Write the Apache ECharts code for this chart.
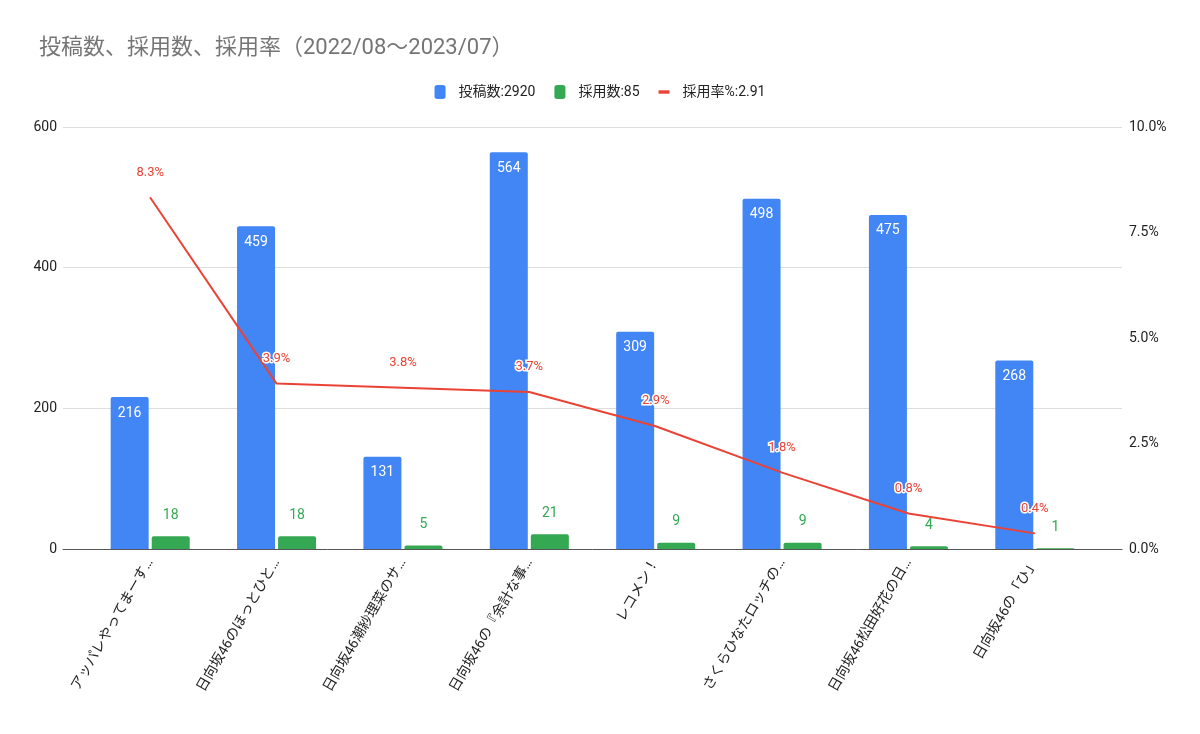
<!DOCTYPE html>
<html>
<head>
<meta charset="utf-8">
<script src="https://cdn.jsdelivr.net/npm/echarts@6/dist/echarts.min.js"></script>
<style>
  html, body { margin: 0; padding: 0; background: #fff; }
  #chart { width: 1200px; height: 734px; }
</style>
</head>
<body>
<div id="chart"></div>
<script>
// 番組名（表示用に省略済み）
const categories = [
  'アッパレやってまーす…',
  '日向坂46のほっとひと…',
  '日向坂46潮紗理菜のサ…',
  '日向坂46の『余計な事…',
  'レコメン！',
  'さくらひなたロッチの…',
  '日向坂46松田好花の日…',
  '日向坂46の「ひ」'
]
const posts = [216, 459, 131, 564, 309, 498, 475, 268]
const adopted = [18, 18, 5, 21, 9, 9, 4, 1]
const rates = [8.33, 3.92, 3.82, 3.72, 2.91, 1.81, 0.84, 0.37]
const leftTicks = { min: 0, max: 600, interval: 200 }
const rightTicks = { min: 0, max: 10, interval: 2.5 }
const seriesNames = ['投稿数:2920', '採用数:85', '採用率%:2.91']

const font = 'Roboto, "Noto Sans CJK JP", sans-serif'
const colors = ['#4285F4', '#34A853', '#EA4335']

const myChart = echarts.init(document.getElementById('chart'))

// 棒用の軸（非表示）と、グリッド線・目盛り表示用の軸を分ける
const hiddenY = (t) => ({
  type: 'value', gridIndex: 0, min: t.min, max: t.max, interval: t.interval,
  show: false
})

const option = {
  animation: false,
  textStyle: { fontFamily: font },
  title: {
    text: '投稿数、採用数、採用率（2022/08〜2023/07）',
    left: 34,
    top: 32,
    textStyle: { fontSize: 22, fontWeight: 'normal', color: '#757575', fontFamily: font }
  },
  legend: {
    top: 80,
    left: 'center',
    itemGap: 19,
    itemWidth: 11,
    itemHeight: 14,
    textStyle: { fontSize: 14, color: '#222', fontFamily: font, padding: [0, 0, 0, 8] },
    data: [
      { name: seriesNames[0], icon: 'roundRect' },
      { name: seriesNames[1], icon: 'roundRect' },
      { name: seriesNames[2], icon: 'path://M0,5 L13,5 L13,9 L0,9 Z' }
    ]
  },
  grid: [
    { left: 87, right: 102, top: 127, bottom: 185 },
    { left: 63, right: 78, top: 127, bottom: 185 }
  ],
  xAxis: [
    {
      type: 'category',
      gridIndex: 0,
      data: categories,
      axisTick: { show: false },
      axisLine: { show: false },
      axisLabel: {
        rotate: 60,
        margin: 11,
        fontSize: 14,
        color: '#222',
        interval: 0,
        fontFamily: font
      }
    },
    {
      type: 'category',
      gridIndex: 1,
      data: [''],
      axisTick: { show: false },
      axisLabel: { show: false },
      axisLine: { lineStyle: { color: '#555', width: 1 } }
    }
  ],
  yAxis: [
    hiddenY(leftTicks),
    hiddenY(rightTicks),
    {
      type: 'value',
      gridIndex: 1,
      min: leftTicks.min,
      max: leftTicks.max,
      interval: leftTicks.interval,
      axisLine: { show: false },
      axisTick: { show: false },
      splitLine: { lineStyle: { color: '#ddd' } },
      axisLabel: { color: '#222', fontSize: 14, margin: 6, fontFamily: font }
    },
    {
      type: 'value',
      gridIndex: 1,
      position: 'right',
      min: rightTicks.min,
      max: rightTicks.max,
      interval: rightTicks.interval,
      axisLine: { show: false },
      axisTick: { show: false },
      splitLine: { show: false },
      axisLabel: {
        color: '#222',
        fontSize: 14,
        margin: 7,
        fontFamily: font,
        formatter: v => v.toFixed(1) + '%'
      }
    }
  ],
  series: [
    {
      name: seriesNames[0],
      type: 'bar',
      data: posts,
      barWidth: 38,
      barGap: '8%',
      itemStyle: { color: colors[0], borderRadius: [2, 2, 0, 0] },
      label: {
        show: true,
        position: 'insideTop',
        distance: 9,
        color: '#fff',
        fontSize: 14,
        fontFamily: font
      }
    },
    {
      name: seriesNames[1],
      type: 'bar',
      data: adopted,
      barWidth: 38,
      itemStyle: { color: colors[1], borderRadius: [2, 2, 0, 0] },
      label: {
        show: true,
        position: 'top',
        distance: 14,
        color: colors[1],
        fontSize: 14,
        fontFamily: font
      }
    },
    {
      name: seriesNames[2],
      type: 'line',
      yAxisIndex: 1,
      data: rates,
      symbol: 'circle',
      symbolSize: 1,
      itemStyle: { color: colors[2] },
      lineStyle: { color: colors[2], width: 2 },
      label: {
        show: true,
        position: 'top',
        distance: 18,
        color: colors[2],
        fontSize: 13,
        textBorderColor: '#fff',
        textBorderWidth: 3,
        fontFamily: font,
        formatter: p => p.value.toFixed(1) + '%'
      }
    }
  ]
}

myChart.setOption(option)
</script>
</body>
</html>
